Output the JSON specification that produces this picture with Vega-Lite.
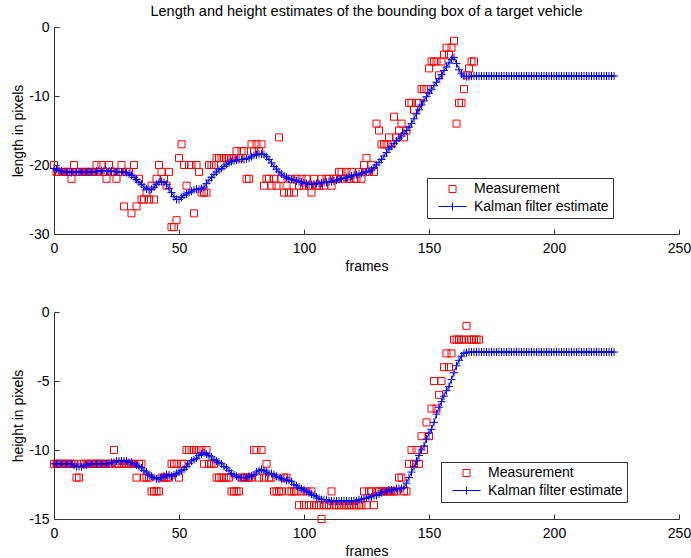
{
"$schema": "https://vega.github.io/schema/vega-lite/v6.json",
"padding": {"left": 11, "top": 3, "right": 0, "bottom": 0},
"spacing": 32,
"config": {
 "font": "Liberation Sans",
 "view": {"stroke": null},
 "axis": {"labelFontSize": 14, "titleFontSize": 14, "titleFontWeight": "normal", "labelColor": "black", "titleColor": "black", "domainColor": "#333", "tickColor": "#333", "tickSize": -5, "grid": false, "labelFlush": false, "labelOverlap": false, "labelExpr": "replace(datum.label, '\u2212', '-')"},
 "axisX": {"labelPadding": 12, "titlePadding": 4},
 "axisY": {"labelPadding": 10, "titlePadding": 3},
 "legend": {"orient": "none", "direction": "vertical", "fillColor": "white", "strokeColor": "#333", "padding": 4, "labelFontSize": 14, "labelColor": "black", "symbolStrokeWidth": 1, "symbolOpacity": 1, "rowPadding": 3, "labelOffset": 14, "symbolOffset": 14},
 "title": {"fontSize": 14.5, "fontWeight": "normal", "color": "black", "font": "Liberation Sans"}
},
"resolve": {"scale": {"color": "independent", "shape": "independent", "size": "independent"}},
"datasets": {
"top": [
{"f":0,"m":-20,"k":-20.5},{"f":1,"m":-21,"k":-20.6},{"f":2,"m":-21,"k":-20.8},{"f":3,"m":-21,"k":-20.9},{"f":4,"m":-21,"k":-21},{"f":5,"m":-21,"k":-21},{"f":6,"m":-21,"k":-21},{"f":7,"m":-22,"k":-21.1},{"f":8,"m":-20,"k":-21},{"f":9,"m":-21,"k":-21},
{"f":10,"m":-21,"k":-21},{"f":11,"m":-21,"k":-21},{"f":12,"m":-21,"k":-21},{"f":13,"m":-21,"k":-21},{"f":14,"m":-21,"k":-21},{"f":15,"m":-21,"k":-21},{"f":16,"m":-21,"k":-21},{"f":17,"m":-20,"k":-20.9},{"f":18,"m":-21,"k":-20.9},{"f":19,"m":-20,"k":-20.8},
{"f":20,"m":-21,"k":-20.8},{"f":21,"m":-22,"k":-20.9},{"f":22,"m":-20,"k":-20.9},{"f":23,"m":-21,"k":-20.9},{"f":24,"m":-21,"k":-20.9},{"f":25,"m":-22,"k":-21},{"f":26,"m":-21,"k":-21},{"f":27,"m":-20,"k":-21},{"f":28,"m":-26,"k":-21},{"f":29,"m":-21,"k":-21.1},
{"f":30,"m":-21,"k":-21.3},{"f":31,"m":-27,"k":-21.5},{"f":32,"m":-20,"k":-21.8},{"f":33,"m":-26,"k":-22.1},{"f":34,"m":-22,"k":-22.5},{"f":35,"m":-25,"k":-22.8},{"f":36,"m":-25,"k":-23.2},{"f":37,"m":-24,"k":-23.5},{"f":38,"m":-25,"k":-23.6},{"f":39,"m":-23,"k":-23.5},
{"f":40,"m":-25,"k":-23.2},{"f":41,"m":-22,"k":-22.8},{"f":42,"m":-20,"k":-22.5},{"f":43,"m":-21,"k":-22.4},{"f":44,"m":-22,"k":-22.5},{"f":45,"m":-23,"k":-22.8},{"f":46,"m":-21,"k":-23.4},{"f":47,"m":-29,"k":-24},{"f":48,"m":-29,"k":-24.6},{"f":49,"m":-28,"k":-25},
{"f":50,"m":-19,"k":-25},{"f":51,"m":-17,"k":-24.7},{"f":52,"m":-20,"k":-24.4},{"f":53,"m":-23,"k":-24.2},{"f":54,"m":-20,"k":-24},{"f":55,"m":-20,"k":-23.8},{"f":56,"m":-27,"k":-23.6},{"f":57,"m":-20,"k":-23.5},{"f":58,"m":-21,"k":-23.5},{"f":59,"m":-24,"k":-23.4},
{"f":60,"m":-24,"k":-23.2},{"f":61,"m":-24,"k":-22.7},{"f":62,"m":-20,"k":-22.2},{"f":63,"m":-20,"k":-21.8},{"f":64,"m":-20,"k":-21.4},{"f":65,"m":-19,"k":-21},{"f":66,"m":-19,"k":-20.7},{"f":67,"m":-19,"k":-20.5},{"f":68,"m":-19,"k":-20.2},{"f":69,"m":-19,"k":-19.9},
{"f":70,"m":-19,"k":-19.7},{"f":71,"m":-19,"k":-19.5},{"f":72,"m":-19,"k":-19.4},{"f":73,"m":-18,"k":-19.3},{"f":74,"m":-19,"k":-19.2},{"f":75,"m":-18,"k":-19.2},{"f":76,"m":-18,"k":-19.2},{"f":77,"m":-22,"k":-19.1},{"f":78,"m":-22,"k":-19},{"f":79,"m":-17,"k":-18.8},
{"f":80,"m":-18,"k":-18.6},{"f":81,"m":-17,"k":-18.5},{"f":82,"m":-18,"k":-18.4},{"f":83,"m":-17,"k":-18.4},{"f":84,"m":-23,"k":-18.5},{"f":85,"m":-22,"k":-18.8},{"f":86,"m":-22,"k":-19.2},{"f":87,"m":-23,"k":-19.7},{"f":88,"m":-22,"k":-20.2},{"f":89,"m":-23,"k":-20.6},
{"f":90,"m":-16,"k":-21},{"f":91,"m":-22,"k":-21.3},{"f":92,"m":-24,"k":-21.6},{"f":93,"m":-23,"k":-21.8},{"f":94,"m":-24,"k":-22},{"f":95,"m":-22,"k":-22.1},{"f":96,"m":-24,"k":-22.2},{"f":97,"m":-22,"k":-22.3},{"f":98,"m":-23,"k":-22.4},{"f":99,"m":-22,"k":-22.5},
{"f":100,"m":-23,"k":-22.6},{"f":101,"m":-22,"k":-22.7},{"f":102,"m":-23,"k":-22.8},{"f":103,"m":-24,"k":-22.8},{"f":104,"m":-22,"k":-22.8},{"f":105,"m":-23,"k":-22.7},{"f":106,"m":-23,"k":-22.7},{"f":107,"m":-22,"k":-22.6},{"f":108,"m":-23,"k":-22.5},{"f":109,"m":-22,"k":-22.5},
{"f":110,"m":-22,"k":-22.4},{"f":111,"m":-23,"k":-22.4},{"f":112,"m":-22,"k":-22.3},{"f":113,"m":-22,"k":-22.2},{"f":114,"m":-21,"k":-22.1},{"f":115,"m":-21,"k":-22},{"f":116,"m":-22,"k":-21.9},{"f":117,"m":-21,"k":-21.8},{"f":118,"m":-22,"k":-21.7},{"f":119,"m":-21,"k":-21.6},
{"f":120,"m":-22,"k":-21.5},{"f":121,"m":-22,"k":-21.4},{"f":122,"m":-21,"k":-21.3},{"f":123,"m":-22,"k":-21.2},{"f":124,"m":-20,"k":-21.1},{"f":125,"m":-19,"k":-21},{"f":126,"m":-21,"k":-20.9},{"f":127,"m":-20,"k":-20.7},{"f":128,"m":-21,"k":-20.4},{"f":129,"m":-14,"k":-20},
{"f":130,"m":-15,"k":-19.6},{"f":131,"m":-17,"k":-19.2},{"f":132,"m":-17,"k":-18.7},{"f":133,"m":-17,"k":-18.2},{"f":134,"m":-16,"k":-17.7},{"f":135,"m":-17,"k":-17.3},{"f":136,"m":-13,"k":-16.9},{"f":137,"m":-16,"k":-16.5},{"f":138,"m":-15,"k":-16.1},{"f":139,"m":-14,"k":-15.8},
{"f":140,"m":-16,"k":-15.4},{"f":141,"m":-15,"k":-15},{"f":142,"m":-11,"k":-14.5},{"f":143,"m":-11,"k":-14},{"f":144,"m":-12,"k":-13.3},{"f":145,"m":-11,"k":-12.6},{"f":146,"m":-11,"k":-12},{"f":147,"m":-9,"k":-11.3},{"f":148,"m":-9,"k":-10.7},{"f":149,"m":-9,"k":-10.1},
{"f":150,"m":-6,"k":-9.6},{"f":151,"m":-5,"k":-9.1},{"f":152,"m":-5,"k":-8.5},{"f":153,"m":-5,"k":-8},{"f":154,"m":-7,"k":-7.5},{"f":155,"m":-5,"k":-6.9},{"f":156,"m":-4,"k":-6.3},{"f":157,"m":-3,"k":-5.8},{"f":158,"m":-4,"k":-5.2},{"f":159,"m":-3,"k":-4.7},
{"f":160,"m":-2,"k":-4.4},{"f":161,"m":-14,"k":-5.3},{"f":162,"m":-11,"k":-6.2},{"f":163,"m":-11,"k":-6.8},{"f":164,"m":-9,"k":-7.1},{"f":165,"m":-7,"k":-7.2},{"f":166,"m":-6,"k":-7.2},{"f":167,"m":-5,"k":-7.1},{"f":168,"m":-5,"k":-7.1},{"f":169,"k":-7.1},
{"f":170,"k":-7.1},{"f":171,"k":-7.1},{"f":172,"k":-7.1},{"f":173,"k":-7.1},{"f":174,"k":-7.1},{"f":175,"k":-7.1},{"f":176,"k":-7.1},{"f":177,"k":-7.1},{"f":178,"k":-7.1},{"f":179,"k":-7.1},
{"f":180,"k":-7.1},{"f":181,"k":-7.1},{"f":182,"k":-7.1},{"f":183,"k":-7.1},{"f":184,"k":-7.1},{"f":185,"k":-7.1},{"f":186,"k":-7.1},{"f":187,"k":-7.1},{"f":188,"k":-7.1},{"f":189,"k":-7.1},
{"f":190,"k":-7.1},{"f":191,"k":-7.1},{"f":192,"k":-7.1},{"f":193,"k":-7.1},{"f":194,"k":-7.1},{"f":195,"k":-7.1},{"f":196,"k":-7.1},{"f":197,"k":-7.1},{"f":198,"k":-7.1},{"f":199,"k":-7.1},
{"f":200,"k":-7.1},{"f":201,"k":-7.1},{"f":202,"k":-7.1},{"f":203,"k":-7.1},{"f":204,"k":-7.1},{"f":205,"k":-7.1},{"f":206,"k":-7.1},{"f":207,"k":-7.1},{"f":208,"k":-7.1},{"f":209,"k":-7.1},
{"f":210,"k":-7.1},{"f":211,"k":-7.1},{"f":212,"k":-7.1},{"f":213,"k":-7.1},{"f":214,"k":-7.1},{"f":215,"k":-7.1},{"f":216,"k":-7.1},{"f":217,"k":-7.1},{"f":218,"k":-7.1},{"f":219,"k":-7.1},
{"f":220,"k":-7.1},{"f":221,"k":-7.1},{"f":222,"k":-7.1},{"f":223,"k":-7.1},{"f":224,"k":-7.1}
],
"bottom": [
{"f":0,"m":-11,"k":-11},{"f":1,"m":-11,"k":-11},{"f":2,"m":-11,"k":-11},{"f":3,"m":-11,"k":-11},{"f":4,"m":-11,"k":-11},{"f":5,"m":-11,"k":-11},{"f":6,"m":-11,"k":-11},{"f":7,"m":-11,"k":-11},{"f":8,"m":-11,"k":-11.1},{"f":9,"m":-12,"k":-11.2},
{"f":10,"m":-12,"k":-11.2},{"f":11,"m":-11,"k":-11.2},{"f":12,"m":-11,"k":-11.1},{"f":13,"m":-11,"k":-11.1},{"f":14,"m":-11,"k":-11},{"f":15,"m":-11,"k":-11},{"f":16,"m":-11,"k":-11},{"f":17,"m":-11,"k":-11},{"f":18,"m":-11,"k":-11},{"f":19,"m":-11,"k":-11},
{"f":20,"m":-11,"k":-11},{"f":21,"m":-11,"k":-11},{"f":22,"m":-11,"k":-11},{"f":23,"m":-11,"k":-10.9},{"f":24,"m":-10,"k":-10.9},{"f":25,"m":-11,"k":-10.8},{"f":26,"m":-11,"k":-10.8},{"f":27,"m":-11,"k":-10.8},{"f":28,"m":-11,"k":-10.8},{"f":29,"m":-11,"k":-10.8},
{"f":30,"m":-11,"k":-10.9},{"f":31,"m":-11,"k":-10.9},{"f":32,"m":-11,"k":-11},{"f":33,"m":-12,"k":-11.1},{"f":34,"m":-11,"k":-11.2},{"f":35,"m":-11,"k":-11.3},{"f":36,"m":-12,"k":-11.5},{"f":37,"m":-12,"k":-11.6},{"f":38,"m":-12,"k":-11.8},{"f":39,"m":-13,"k":-11.9},
{"f":40,"m":-13,"k":-12},{"f":41,"m":-13,"k":-12.1},{"f":42,"m":-13,"k":-12.1},{"f":43,"m":-12,"k":-12},{"f":44,"m":-12,"k":-11.9},{"f":45,"m":-12,"k":-11.8},{"f":46,"m":-12,"k":-11.8},{"f":47,"m":-11,"k":-11.9},{"f":48,"m":-11,"k":-11.8},{"f":49,"m":-11,"k":-11.7},
{"f":50,"m":-12,"k":-11.6},{"f":51,"m":-11,"k":-11.5},{"f":52,"m":-11,"k":-11.4},{"f":53,"m":-10,"k":-11.2},{"f":54,"m":-10,"k":-11},{"f":55,"m":-10,"k":-10.8},{"f":56,"m":-10,"k":-10.7},{"f":57,"m":-10,"k":-10.6},{"f":58,"m":-10,"k":-10.4},{"f":59,"m":-10,"k":-10.3},
{"f":60,"m":-11,"k":-10.2},{"f":61,"m":-10,"k":-10.3},{"f":62,"m":-11,"k":-10.4},{"f":63,"m":-11,"k":-10.5},{"f":64,"m":-11,"k":-10.7},{"f":65,"m":-12,"k":-10.8},{"f":66,"m":-12,"k":-10.9},{"f":67,"m":-12,"k":-11},{"f":68,"m":-12,"k":-11.2},{"f":69,"m":-12,"k":-11.3},
{"f":70,"m":-12,"k":-11.5},{"f":71,"m":-13,"k":-11.7},{"f":72,"m":-13,"k":-11.8},{"f":73,"m":-13,"k":-11.9},{"f":74,"m":-13,"k":-12},{"f":75,"m":-12,"k":-12},{"f":76,"m":-12,"k":-12},{"f":77,"m":-12,"k":-12},{"f":78,"m":-12,"k":-11.9},{"f":79,"m":-12,"k":-11.9},
{"f":80,"m":-10,"k":-11.8},{"f":81,"m":-10,"k":-11.6},{"f":82,"m":-12,"k":-11.5},{"f":83,"m":-10,"k":-11.4},{"f":84,"m":-12,"k":-11.5},{"f":85,"m":-11,"k":-11.6},{"f":86,"m":-12,"k":-11.7},{"f":87,"m":-12,"k":-11.7},{"f":88,"m":-13,"k":-11.8},{"f":89,"m":-13,"k":-11.9},
{"f":90,"m":-13,"k":-12},{"f":91,"m":-13,"k":-12.1},{"f":92,"m":-12,"k":-12.1},{"f":93,"m":-12,"k":-12.2},{"f":94,"m":-13,"k":-12.2},{"f":95,"m":-13,"k":-12.3},{"f":96,"m":-13,"k":-12.5},{"f":97,"m":-13,"k":-12.6},{"f":98,"m":-14,"k":-12.7},{"f":99,"m":-13,"k":-12.8},
{"f":100,"m":-14,"k":-12.9},{"f":101,"m":-13,"k":-13},{"f":102,"m":-14,"k":-13.1},{"f":103,"m":-13,"k":-13.2},{"f":104,"m":-14,"k":-13.3},{"f":105,"m":-14,"k":-13.4},{"f":106,"m":-14,"k":-13.5},{"f":107,"m":-15,"k":-13.6},{"f":108,"m":-14,"k":-13.6},{"f":109,"m":-14,"k":-13.6},
{"f":110,"m":-14,"k":-13.7},{"f":111,"m":-13,"k":-13.7},{"f":112,"m":-14,"k":-13.7},{"f":113,"m":-14,"k":-13.7},{"f":114,"m":-14,"k":-13.7},{"f":115,"m":-14,"k":-13.7},{"f":116,"m":-14,"k":-13.7},{"f":117,"m":-14,"k":-13.7},{"f":118,"m":-14,"k":-13.7},{"f":119,"m":-14,"k":-13.7},
{"f":120,"m":-14,"k":-13.7},{"f":121,"m":-14,"k":-13.7},{"f":122,"m":-14,"k":-13.6},{"f":123,"m":-14,"k":-13.6},{"f":124,"m":-13,"k":-13.5},{"f":125,"m":-14,"k":-13.5},{"f":126,"m":-13,"k":-13.4},{"f":127,"m":-13,"k":-13.4},{"f":128,"m":-14,"k":-13.3},{"f":129,"m":-13,"k":-13.3},
{"f":130,"m":-13,"k":-13.2},{"f":131,"m":-13,"k":-13.1},{"f":132,"m":-13,"k":-13},{"f":133,"m":-13,"k":-13},{"f":134,"m":-13,"k":-12.9},{"f":135,"m":-13,"k":-12.9},{"f":136,"m":-13,"k":-12.9},{"f":137,"m":-13,"k":-12.8},{"f":138,"m":-12,"k":-12.8},{"f":139,"m":-12,"k":-12.8},
{"f":140,"m":-13,"k":-12.7},{"f":141,"m":-13,"k":-12.4},{"f":142,"m":-11,"k":-12},{"f":143,"m":-10,"k":-11.6},{"f":144,"m":-11,"k":-11.2},{"f":145,"m":-10,"k":-10.8},{"f":146,"m":-11,"k":-10.4},{"f":147,"m":-9,"k":-10},{"f":148,"m":-10,"k":-9.7},{"f":149,"m":-8,"k":-9.2},
{"f":150,"m":-9,"k":-8.8},{"f":151,"m":-7,"k":-8.5},{"f":152,"m":-5,"k":-8},{"f":153,"m":-7,"k":-7.4},{"f":154,"m":-6,"k":-6.9},{"f":155,"m":-5,"k":-6.5},{"f":156,"m":-4,"k":-6.1},{"f":157,"m":-3,"k":-5.7},{"f":158,"m":-4,"k":-5.4},{"f":159,"m":-3,"k":-4.9},
{"f":160,"m":-2,"k":-4.4},{"f":161,"m":-2,"k":-3.9},{"f":162,"m":-2,"k":-3.5},{"f":163,"m":-2,"k":-3.2},{"f":164,"m":-2,"k":-3},{"f":165,"m":-1,"k":-2.95},{"f":166,"m":-2,"k":-2.9},{"f":167,"m":-2,"k":-2.9},{"f":168,"m":-2,"k":-2.9},{"f":169,"m":-2,"k":-2.9},
{"f":170,"m":-2,"k":-2.9},{"f":171,"k":-2.9},{"f":172,"k":-2.9},{"f":173,"k":-2.9},{"f":174,"k":-2.9},{"f":175,"k":-2.9},{"f":176,"k":-2.9},{"f":177,"k":-2.9},{"f":178,"k":-2.9},{"f":179,"k":-2.9},
{"f":180,"k":-2.9},{"f":181,"k":-2.9},{"f":182,"k":-2.9},{"f":183,"k":-2.9},{"f":184,"k":-2.9},{"f":185,"k":-2.9},{"f":186,"k":-2.9},{"f":187,"k":-2.9},{"f":188,"k":-2.9},{"f":189,"k":-2.9},
{"f":190,"k":-2.9},{"f":191,"k":-2.9},{"f":192,"k":-2.9},{"f":193,"k":-2.9},{"f":194,"k":-2.9},{"f":195,"k":-2.9},{"f":196,"k":-2.9},{"f":197,"k":-2.9},{"f":198,"k":-2.9},{"f":199,"k":-2.9},
{"f":200,"k":-2.9},{"f":201,"k":-2.9},{"f":202,"k":-2.9},{"f":203,"k":-2.9},{"f":204,"k":-2.9},{"f":205,"k":-2.9},{"f":206,"k":-2.9},{"f":207,"k":-2.9},{"f":208,"k":-2.9},{"f":209,"k":-2.9},
{"f":210,"k":-2.9},{"f":211,"k":-2.9},{"f":212,"k":-2.9},{"f":213,"k":-2.9},{"f":214,"k":-2.9},{"f":215,"k":-2.9},{"f":216,"k":-2.9},{"f":217,"k":-2.9},{"f":218,"k":-2.9},{"f":219,"k":-2.9},
{"f":220,"k":-2.9},{"f":221,"k":-2.9},{"f":222,"k":-2.9},{"f":223,"k":-2.9},{"f":224,"k":-2.9}
]
},
"vconcat": [
{
 "title": {"text": "Length and height estimates of the bounding box of a target vehicle", "anchor": "middle", "frame": "group", "offset": 1},
 "width": 625, "height": 207,
 "data": {"name": "top"},
 "encoding": {
  "x": {"field": "f", "type": "quantitative", "scale": {"domain": [0, 250], "nice": false}, "axis": {"title": "frames", "values": [0, 50, 100, 150, 200, 250]}}
 },
 "layer": [
  {"mark": {"type": "point", "shape": "square", "filled": false, "opacity": 1, "strokeWidth": 1, "size": 49, "color": "#ff0000"},
   "encoding": {
    "y": {"field": "m", "type": "quantitative", "scale": {"domain": [-30, 0], "nice": false}, "axis": {"title": "length in pixels", "values": [-30, -25, -20, -15, -10, -5, 0]}}
   }},
  {"mark": {"type": "line", "color": "#0000ff", "strokeWidth": 1},
   "encoding": {"y": {"field": "k", "type": "quantitative"}}},
  {"mark": {"type": "point", "shape": "M-1,0H1M0,-1V1", "filled": false, "opacity": 1, "strokeWidth": 1, "size": 64, "color": "#0000ff"},
   "encoding": {"y": {"field": "k", "type": "quantitative"}}},
  {"transform": [{"filter": "datum.f == 0"}, {"fold": ["m", "k"], "as": ["series", "v"]}],
   "mark": {"type": "point", "filled": false, "opacity": 0, "strokeWidth": 1},
   "encoding": {
    "y": {"field": "v", "type": "quantitative"},
    "color": {"field": "series", "type": "nominal", "scale": {"domain": ["m", "k"], "range": ["#ff0000", "#0000ff"]},
      "legend": {"title": null, "legendX": 373, "legendY": 151, "labelExpr": "(datum.value === 'm' ? 'Measurement' : 'Kalman filter estimate') + '\u00a0\u00a0\u00a0\u00a0'"}},
    "shape": {"field": "series", "type": "nominal", "scale": {"domain": ["m", "k"], "range": ["square", "M-2,0H2M0,-0.57V0.57"]},
      "legend": {"title": null, "legendX": 373, "legendY": 151, "labelExpr": "(datum.value === 'm' ? 'Measurement' : 'Kalman filter estimate') + '\u00a0\u00a0\u00a0\u00a0'"}},
    "size": {"field": "series", "type": "nominal", "scale": {"domain": ["m", "k"], "range": [49, 196]},
      "legend": {"title": null, "legendX": 373, "legendY": 151, "labelExpr": "(datum.value === 'm' ? 'Measurement' : 'Kalman filter estimate') + '\u00a0\u00a0\u00a0\u00a0'"}}
   }}
 ]
},
{
 "width": 625, "height": 207,
 "data": {"name": "bottom"},
 "encoding": {
  "x": {"field": "f", "type": "quantitative", "scale": {"domain": [0, 250], "nice": false}, "axis": {"title": "frames", "values": [0, 50, 100, 150, 200, 250]}}
 },
 "layer": [
  {"mark": {"type": "point", "shape": "square", "filled": false, "opacity": 1, "strokeWidth": 1, "size": 49, "color": "#ff0000"},
   "encoding": {
    "y": {"field": "m", "type": "quantitative", "scale": {"domain": [-15, 0], "nice": false}, "axis": {"title": "height in pixels", "values": [-15, -10, -5, 0]}}
   }},
  {"mark": {"type": "line", "color": "#0000ff", "strokeWidth": 1},
   "encoding": {"y": {"field": "k", "type": "quantitative"}}},
  {"mark": {"type": "point", "shape": "M-1,0H1M0,-1V1", "filled": false, "opacity": 1, "strokeWidth": 1, "size": 64, "color": "#0000ff"},
   "encoding": {"y": {"field": "k", "type": "quantitative"}}},
  {"transform": [{"filter": "datum.f == 0"}, {"fold": ["m", "k"], "as": ["series", "v"]}],
   "mark": {"type": "point", "filled": false, "opacity": 0, "strokeWidth": 1},
   "encoding": {
    "y": {"field": "v", "type": "quantitative"},
    "color": {"field": "series", "type": "nominal", "scale": {"domain": ["m", "k"], "range": ["#ff0000", "#0000ff"]},
      "legend": {"title": null, "legendX": 387, "legendY": 150, "labelExpr": "(datum.value === 'm' ? 'Measurement' : 'Kalman filter estimate') + '\u00a0\u00a0\u00a0\u00a0'"}},
    "shape": {"field": "series", "type": "nominal", "scale": {"domain": ["m", "k"], "range": ["square", "M-2,0H2M0,-0.57V0.57"]},
      "legend": {"title": null, "legendX": 387, "legendY": 150, "labelExpr": "(datum.value === 'm' ? 'Measurement' : 'Kalman filter estimate') + '\u00a0\u00a0\u00a0\u00a0'"}},
    "size": {"field": "series", "type": "nominal", "scale": {"domain": ["m", "k"], "range": [49, 196]},
      "legend": {"title": null, "legendX": 387, "legendY": 150, "labelExpr": "(datum.value === 'm' ? 'Measurement' : 'Kalman filter estimate') + '\u00a0\u00a0\u00a0\u00a0'"}}
   }}
 ]
}
]
}
